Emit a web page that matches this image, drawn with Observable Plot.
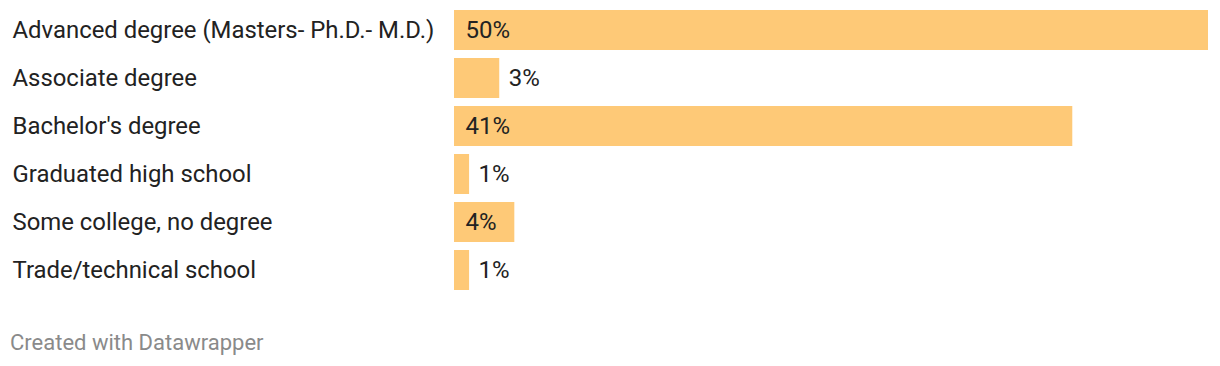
<!DOCTYPE html>
<html>
<head>
<meta charset="utf-8">
<script src="https://cdn.jsdelivr.net/npm/d3@7"></script>
<script src="https://cdn.jsdelivr.net/npm/@observablehq/plot@0.6"></script>
<style>
  html, body { margin: 0; padding: 0; background: #fff; }
  body { width: 1220px; font-family: Roboto, sans-serif; }
  #caption { font-family: Roboto, sans-serif; font-size: 22px; line-height: 26px; color: #8a8a8a; margin: 30px 0 0 10px; }
</style>
</head>
<body>
<div id="chart"></div>
<div id="caption">Created with Datawrapper</div>
<script>
const categories = [
  "Advanced degree (Masters- Ph.D.- M.D.)",
  "Associate degree",
  "Bachelor's degree",
  "Graduated high school",
  "Some college, no degree",
  "Trade/technical school"
];
const values = [50, 3, 41, 1, 4, 1];

const data = categories.map((c, i) => ({cat: c, v: values[i]}));
const inside = data.filter(d => d.v >= 4);
const outside = data.filter(d => d.v < 4);

const chart = Plot.plot({
  width: 1220,
  height: 300,
  marginLeft: 454,
  marginRight: 12,
  marginTop: 10,
  marginBottom: 10,
  style: {fontFamily: "Roboto, sans-serif", background: "#fff"},
  x: {domain: [0, 50], axis: null},
  y: {domain: categories, axis: null, paddingInner: 1/6, paddingOuter: 0},
  marks: [
    Plot.barX(data, {x: "v", y: "cat", fill: "#fec977"}),
    Plot.text(data, {y: "cat", text: "cat", frameAnchor: "left", dx: -442, textAnchor: "start", fontSize: 23.9, fill: "#222"}),
    Plot.text(inside, {y: "cat", x: 0, text: d => d.v + "%", textAnchor: "start", dx: 11, fontSize: 24, fill: "#222"}),
    Plot.text(outside, {y: "cat", x: "v", text: d => d.v + "%", textAnchor: "start", dx: 9, fontSize: 24, fill: "#222"})
  ]
});
document.getElementById("chart").appendChild(chart);
</script>
</body>
</html>
